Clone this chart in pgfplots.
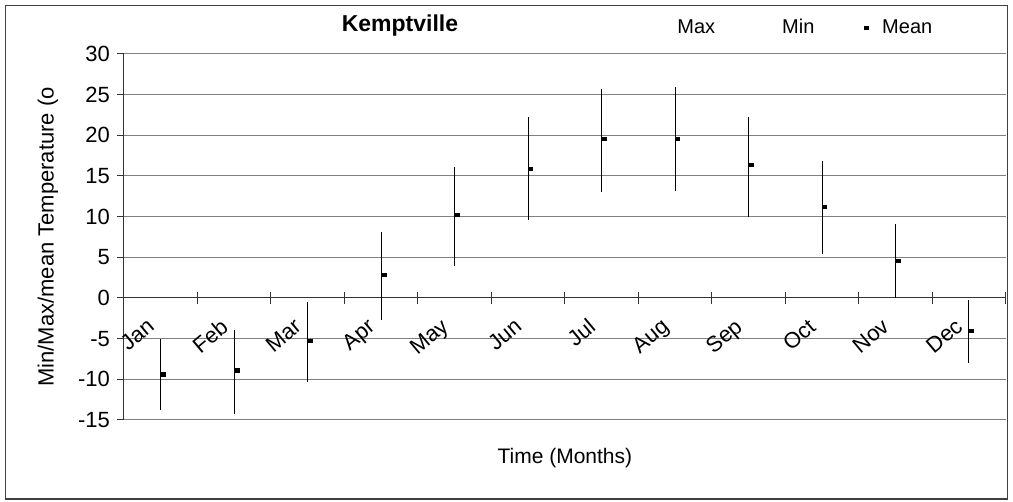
\documentclass[border=0pt]{standalone}
\usepackage{fontspec}
\setmainfont{Liberation Sans}
\usepackage{pgfplots}
\usepackage{pgfplotstable}
\pgfplotsset{compat=1.18}

% Kemptville monthly temperatures (deg C): month index, mean, min, max
\pgfplotstableread{
m  mean   min    max
0  -9.4   -13.8  -5.1
1  -8.9   -14.3  -3.9
2  -5.25  -10.3  -0.45
3   2.85   -2.7   8.15
4  10.2     3.9  16.1
5  15.9     9.6  22.2
6  19.6    13.0  25.65
7  19.6    13.2  25.9
8  16.4    10.0  22.2
9  11.2     5.4  16.8
10  4.6     0.0   9.1
11 -4.0    -8.0  -0.25
}\kemptville

\begin{document}
\begin{tikzpicture}
\begin{axis}[
  at={(0,0)}, anchor=south west,
  scale only axis, width=440.85pt, height=183pt,
  xmin=-0.5, xmax=11.5, ymin=-15, ymax=30,
  axis y line=left, axis x line=middle,
  axis line style={-, black!80, line width=0.5pt},
  hide obscured x ticks=false, hide obscured y ticks=false,
  ytick={-15,-10,...,30},
  ytick align=outside, major tick length=3.5pt,
  xtick={0,...,11},
  xticklabels={Jan,Feb,Mar,Apr,May,Jun,Jul,Aug,Sep,Oct,Nov,Dec},
  major x tick style={draw=none},
  minor xtick={-0.5,0.5,...,11.5},
  minor tick length=6pt, xtick align=center,
  minor x tick style={black!80, line width=0.5pt},
  major y tick style={black!80, line width=0.5pt},
  ymajorgrids, grid style={black!50, line width=0.5pt},
  /pgf/number format/assume math mode=true,
  yticklabel style={font=\fontsize{11}{13}\selectfont},
  xticklabel style={font=\fontsize{11}{13}\selectfont, xshift=-7pt, yshift=-3pt, rotate=40, anchor=north east},
  ylabel={Min/Max/mean Temperature (o},
  ylabel style={font=\fontsize{11}{13}\selectfont, at={(axis description cs:-0.0862,0.5)}, anchor=center},
  xlabel={Time (Months)},
  xlabel style={font=\fontsize{10.5}{12}\selectfont, at={(axis description cs:0.5,-0.104)}, anchor=center},
  title={Kemptville},
  title style={font=\fontsize{11.5}{13}\selectfont\bfseries, at={(axis description cs:0.313,1.046)}, anchor=center},
  legend columns=3,
  legend image code/.code={\path (0pt,0pt) (10pt,0pt); \draw[#1] plot coordinates {(3pt,0pt)};},
  legend style={draw=none, fill=none, inner xsep=0pt, inner ysep=0pt,
    font=\fontsize{10}{12}\selectfont,
    nodes={text height=0.72em, text depth=0.2em},
    cells={anchor=west},
    at={(axis description cs:0.6,1.071)}, anchor=west,
    /tikz/every even column/.append style={column sep=19.5pt}},
]
\addplot[draw=none] table[x=m, y=max] {\kemptville};
\addlegendentry{Max}
\addplot[draw=none] table[x=m, y=min] {\kemptville};
\addlegendentry{Min}
\addplot[only marks, mark=square*, mark size=0.8pt,
  mark options={xscale=1.4, xshift=0.9pt, draw=black, fill=black},
  error bars/.cd, y dir=both, y explicit, error mark=none,
  error bar style={black, line width=0.5pt}]
  table[x=m, y=mean,
    y error plus expr=\thisrow{max}-\thisrow{mean},
    y error minus expr=\thisrow{mean}-\thisrow{min}] {\kemptville};
\addlegendentry{Mean}
\end{axis}
\draw[black!75, line width=0.75pt] (-59.35pt,-39.5pt) rectangle (441.8pt,207.15pt);
\path (-62pt,-41pt) rectangle (444.5pt,210pt);
\end{tikzpicture}
\end{document}
